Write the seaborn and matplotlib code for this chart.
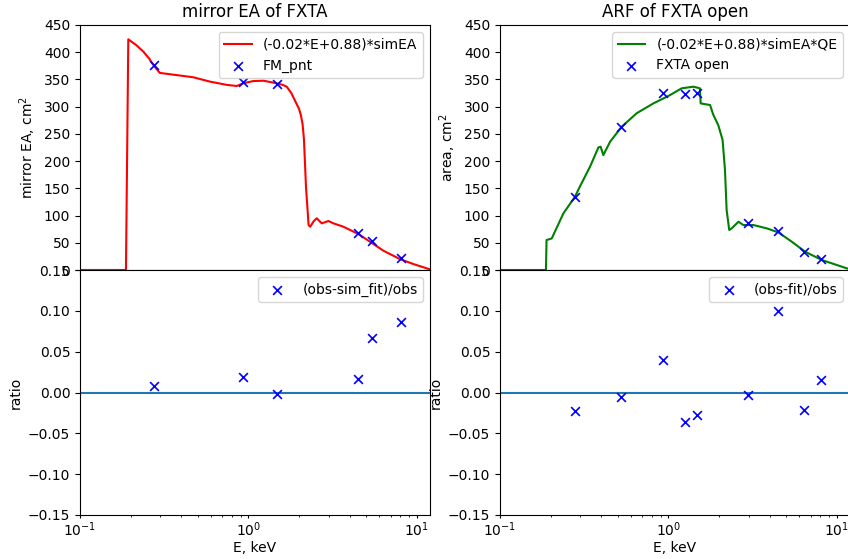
import numpy as np
import pandas as pd
import matplotlib
matplotlib.use("Agg")
import matplotlib.pyplot as plt
import seaborn as sns

# Simulated mirror effective area, scaled by (-0.02*E+0.88)
ea_energy = [0.1, 0.1875, 0.1936, 0.216, 0.238, 0.258, 0.273, 0.287, 0.298, 0.375,
             0.471, 0.592, 0.745, 0.853, 0.933, 1.07, 1.23, 1.47, 1.60, 1.69, 1.80,
             1.90, 2.00, 2.05, 2.10, 2.14, 2.20, 2.28, 2.33, 2.45, 2.55, 2.73, 2.99,
             3.20, 3.67, 4.51, 5.28, 6.34, 7.96, 9.55, 11.75, 12.0]
ea_value = [0.0, 0.0, 423.7, 413.0, 401.0, 388.0, 376.5, 368.0, 362.0, 358.0,
            354.0, 346.0, 340.0, 338.0, 343.0, 347.0, 347.7, 343.0, 340.0, 336.7,
            325.0, 310.0, 296.0, 285.0, 268.0, 240.0, 153.0, 82.6, 79.5, 90.0, 95.0,
            85.7, 90.0, 85.7, 79.5, 66.0, 52.0, 35.5, 20.0, 11.0, 2.0, 1.5]

# Measured mirror points
fm_energy = [0.277, 0.93, 1.49, 4.51, 5.41, 8.04]
fm_value = [376.6, 346.0, 341.7, 67.4, 52.7, 21.4]
fm_ratio = [0.0078, 0.019, -0.002, 0.016, 0.067, 0.086]

# ARF: scaled simulated area times detector QE
arf_energy = [0.1, 0.1875, 0.189, 0.203, 0.238, 0.279, 0.298, 0.343, 0.384, 0.396,
              0.411, 0.451, 0.528, 0.649, 0.815, 1.02, 1.20, 1.41, 1.54, 1.556,
              1.77, 1.85, 1.98, 2.10, 2.17, 2.22, 2.30, 2.38, 2.61, 2.79, 3.20,
              3.84, 4.51, 5.41, 6.49, 8.15, 11.5, 12.0]
arf_value = [0.0, 0.0, 55.0, 58.0, 104.0, 134.7, 153.0, 190.0, 225.0, 226.5,
             211.0, 235.7, 263.0, 288.0, 306.0, 321.0, 333.7, 336.7, 333.7, 306.0,
             303.0, 285.0, 266.0, 239.0, 183.7, 110.0, 73.5, 76.5, 88.7, 82.6, 82.6,
             76.5, 69.0, 52.0, 33.7, 18.4, 3.0, 2.0]

# Measured FXTA open points
open_energy = [0.279, 0.525, 0.93, 1.25, 1.49, 2.98, 4.51, 6.40, 8.04]
open_value = [135.0, 263.0, 324.5, 322.7, 324.5, 87.0, 72.0, 33.7, 19.6]
open_ratio = [-0.0224, -0.006, 0.0396, -0.0363, -0.0278, -0.0033, 0.100, -0.0216, 0.0159]

W, H = 848, 559
fig = plt.figure(figsize=(W / 100, H / 100), dpi=100)

def box(x0, y_top, w, h):
    return [x0 / W, (H - y_top - h) / H, w / W, h / H]

ax_ea = fig.add_axes(box(80, 25, 350, 245))
ax_ea_r = fig.add_axes(box(80, 270, 350, 245), sharex=ax_ea)
ax_arf = fig.add_axes(box(500, 25, 350, 245))
ax_arf_r = fig.add_axes(box(500, 270, 350, 245), sharex=ax_arf)

blue = (0, 0, 1)

def top_panel(ax, ex, ey, color, line_label, px, py, pt_label, title, ylabel):
    sns.lineplot(x=ex, y=ey, ax=ax, color=color, lw=1.5, sort=False,
                 estimator=None, label=line_label)
    sns.scatterplot(x=px, y=py, ax=ax, marker="x", color=blue, s=40,
                    linewidth=1.2, label=pt_label, zorder=3)
    ax.set_xscale("log")
    ax.set_xlim(0.1, 12)
    ax.set_ylim(0, 450)
    ax.set_yticks(np.arange(0, 451, 50))
    ax.set_title(title, fontsize=12)
    ax.set_ylabel(ylabel)
    ax.tick_params(labelbottom=False)
    ax.legend(loc="upper right")

def ratio_panel(ax, px, pr, label):
    sns.scatterplot(x=px, y=pr, ax=ax, marker="x", color=blue, s=40,
                    linewidth=1.2, label=label, zorder=3)
    ax.axhline(0, color="C0", lw=1.5)
    ax.set_xscale("log")
    ax.set_xlim(0.1, 12)
    ax.set_ylim(-0.15, 0.15)
    ax.set_ylabel("ratio")
    ax.set_xlabel("E, keV", labelpad=1)
    ax.tick_params(axis="x", which="major", length=2.5, pad=1.5)
    ax.tick_params(axis="x", which="minor", length=1.5)
    ax.legend(loc="upper right")

top_panel(ax_ea, ea_energy, ea_value, "red", "(-0.02*E+0.88)*simEA",
          fm_energy, fm_value, "FM_pnt", "mirror EA of FXTA", "mirror EA, cm$^2$")
ratio_panel(ax_ea_r, fm_energy, fm_ratio, "(obs-sim_fit)/obs")

top_panel(ax_arf, arf_energy, arf_value, "green", "(-0.02*E+0.88)*simEA*QE",
          open_energy, open_value, "FXTA open", "ARF of FXTA open", "area, cm$^2$")
ratio_panel(ax_arf_r, open_energy, open_ratio, "(obs-fit)/obs")

fig.savefig("out.png", dpi=100)
